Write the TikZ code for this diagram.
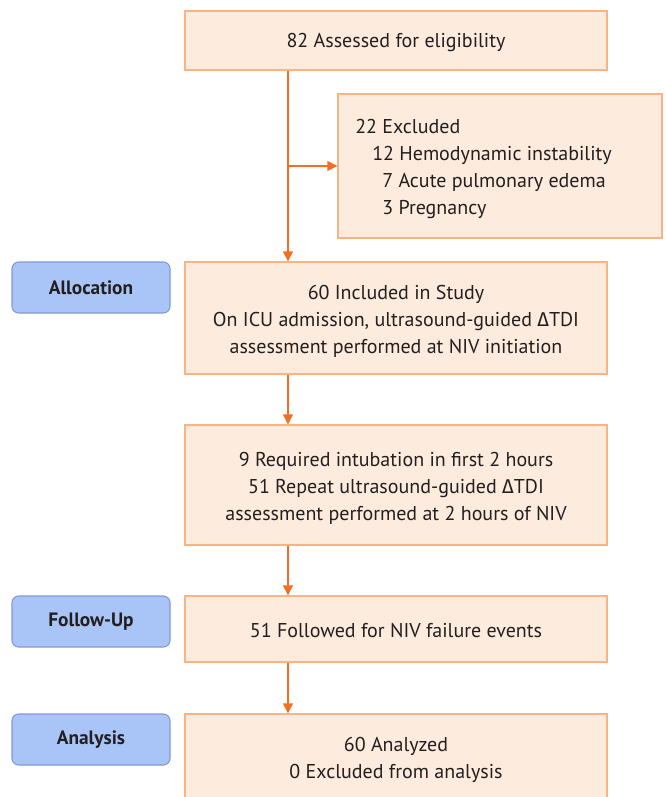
\documentclass[tikz,border=0pt]{standalone}
\usepackage{fontspec}
\setmainfont{PT Sans}
\newfontfamily\grk{Fira Sans}
\usetikzlibrary{arrows.meta}
\definecolor{boxfill}{HTML}{FDEBDD}
\definecolor{boxline}{HTML}{F8B387}
\definecolor{arrowc}{HTML}{F26F21}
\definecolor{tabfill}{HTML}{A9C5F7}
\definecolor{tabline}{HTML}{8696D6}
\definecolor{txt}{HTML}{231F20}
\def\px{0.75pt}
\def\dTDI{{\grk\char"0394}TDI}
\tikzset{
  flowbox/.style={draw=boxline, fill=boxfill, line width=1pt, text=txt,
    minimum width={422*\px}, align=center, inner sep=0pt,
    font=\fontsize{15}{20.25}\selectfont},
  flowtext/.style={text=txt, align=center, inner sep=0pt,
    font=\fontsize{15}{20.25}\selectfont},
  stagebox/.style={draw=tabline, fill=tabfill, line width=0.8pt, rounded corners=5pt,
    text=txt, minimum width={158*\px}, minimum height={51*\px}, inner sep=0pt,
    font=\fontsize{14.5}{16}\selectfont\bfseries},
  flow/.style={draw=arrowc, line width=1pt, -{Triangle[length=7.5pt,width=7.5pt]}}
}
\begin{document}
\begin{tikzpicture}[x=\px, y=-\px]
  \useasboundingbox (0,0) rectangle (665,797);
  %%%%% main column %%%%%
  \node[flowbox, minimum height={59*\px}] (assess) at (396,40.5) {};
  \node[flowtext] (assesstxt) at (396,42) {82 Assessed for eligibility};
  \node[flowbox, minimum width={324*\px}, minimum height={144*\px}] (excl) at (500,166) {};
  \node[flowtext, align=left, anchor=west] (excltxt) at (355,169)
    {22 Excluded\\
     \hspace*{0.85em}12 Hemodynamic instability\\
     \hspace*{1.35em}7 Acute pulmonary edema\\
     \hspace*{1.35em}3 Pregnancy};
  \node[flowbox, minimum height={112*\px}] (incl) at (396,318) {};
  \node[flowtext] (incltxt) at (396,321)
    {60 Included in Study\\
     On ICU admission, ultrasound-guided \dTDI\\
     assessment performed at NIV initiation};
  \node[flowbox, minimum height={120*\px}] (intub) at (396,485) {};
  \node[flowtext] (intubtxt) at (396,488.5)
    {9 Required intubation in first 2 hours\\
     51 Repeat ultrasound-guided \dTDI\\
     assessment performed at 2 hours of NIV};
  \node[flowbox, minimum height={66*\px}] (follow) at (396,629) {};
  \node[flowtext] (followtxt) at (396,630.5) {51 Followed for NIV failure events};
  \node[flowbox, minimum height={100*\px}] (anal) at (396,764) {};
  \node[flowtext] (analtxt) at (396,760)
    {60 Analyzed\\0 Excluded from analysis};
  %%%%% stage tabs %%%%%
  \node[stagebox] (alloc) at (91,287.5) {Allocation};
  \node[stagebox] (fup) at (91,621.5) {Follow-Up};
  \node[stagebox] (analy) at (91,739.5) {Analysis};
  %%%%% arrows %%%%%
  \coordinate (split) at (288,166);
  \draw[draw=arrowc, line width=1pt] (assess.south -| split) -- (split);
  \draw[flow] (split) -- (excl.west);
  \draw[flow] (split) -- (incl.north -| split);
  \draw[flow] (incl.south -| split) -- (intub.north -| split);
  \draw[flow] (intub.south -| split) -- (follow.north -| split);
  \draw[flow] (follow.south -| split) -- (anal.north -| split);
\end{tikzpicture}
\end{document}
